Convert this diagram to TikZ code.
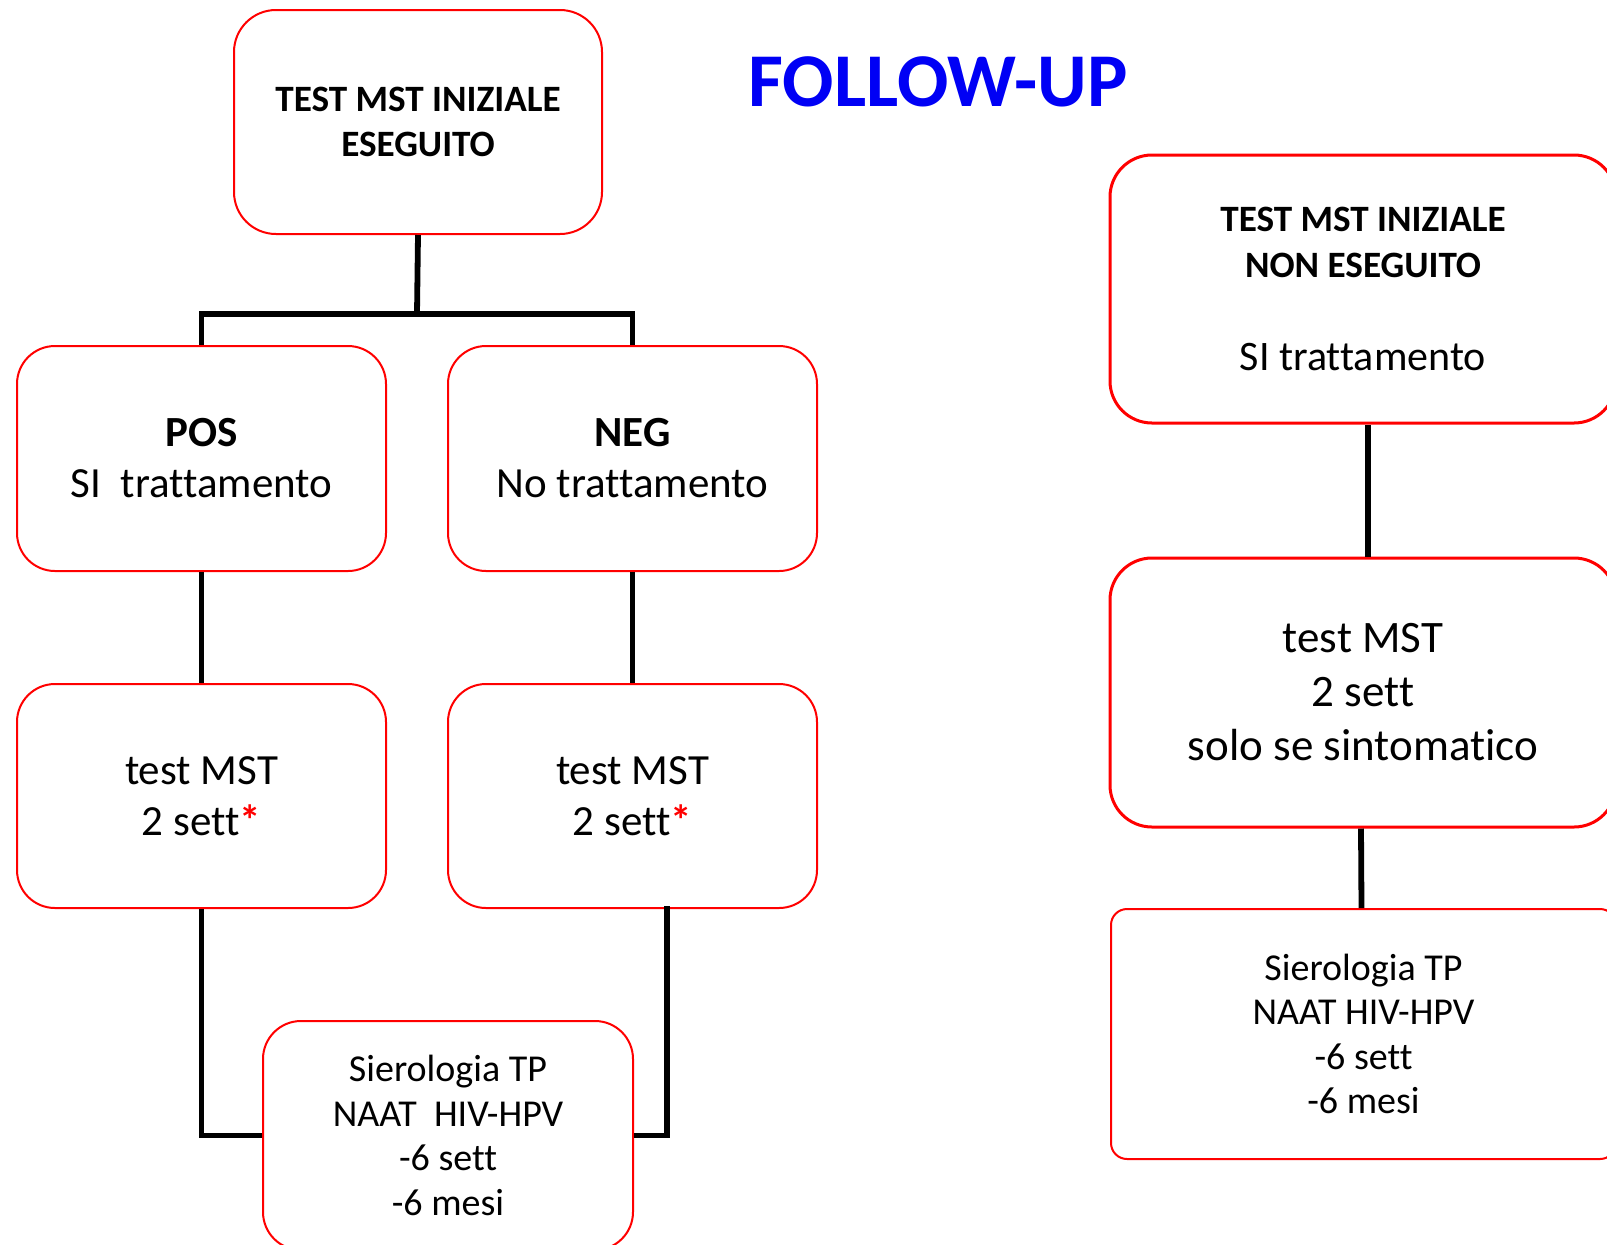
\documentclass[tikz,border=0pt]{standalone}
\usepackage{fontspec}
\setmainfont{Carlito}[Ligatures=NoCommon]
\definecolor{boxred}{RGB}{255,0,0}
\definecolor{titleblue}{RGB}{0,0,245}
\tikzset{
  box/.style={draw=boxred, line width=1pt, fill=white, align=center, inner sep=0pt, rounded corners=19pt},
  thickbox/.style={box, line width=1.5pt, rounded corners=21pt},
  thinbox/.style={box, line width=1pt, rounded corners=8pt},
  conn/.style={line width=2.9pt, black},
  fa/.style={font=\fontsize{18.6}{22.8}\selectfont},
  fb/.style={font=\fontsize{21.5}{25.5}\selectfont},
  fc/.style={font=\fontsize{19}{22.3}\selectfont},
  fd/.style={font=\fontsize{22.5}{27}\selectfont},
}
\newcommand{\rstar}{\textcolor{boxred}{\textbf{*}}}
\begin{document}
\begin{tikzpicture}[x=0.5pt,y=-0.5pt]
\useasboundingbox (0,0) rectangle (1607,1244);
\clip (0,0) rectangle (1607,1244);
\fill[white] (0,0) rectangle (1607,1244);

% left branch
\node[box, rounded corners=21pt, minimum width=184pt, minimum height=112pt, fa] (top) at (418,122)
  {\textbf{TEST MST INIZIALE}\\\textbf{ESEGUITO}};
\node[box, minimum width=184.5pt, minimum height=112.5pt, fb] (pos) at (201.5,458.5)
  {\textbf{POS}\\SI\ \ trattamento};
\node[box, minimum width=184.5pt, minimum height=112.5pt, fb] (neg) at (632.5,458.5)
  {\textbf{NEG}\\No trattamento};
\node[box, minimum width=184.5pt, minimum height=112pt, fb] (tpos) at (201.5,796)
  {test MST\\2 sett\rstar};
\node[box, minimum width=184.5pt, minimum height=112pt, fb] (tneg) at (632.5,796)
  {test MST\\2 sett\rstar};
\node[box, minimum width=185pt, minimum height=114.5pt, fc] (bot) at (448,1135.5)
  {Sierologia TP\\NAAT\ \ HIV-HPV\\-6 sett\\-6 mesi};

% title
\node[font=\fontsize{38}{44}\selectfont\bfseries, text=titleblue, inner sep=0pt] (title) at (938,82) {FOLLOW-UP};

% right branch
\node[thickbox, minimum width=253pt, minimum height=134pt, fa] (rtop) at (1363,289)
  {\textbf{TEST MST INIZIALE}\\\textbf{NON ESEGUITO}\\[24pt]{\fontsize{21}{23}\selectfont SI trattamento}};
\node[thickbox, minimum width=253pt, minimum height=134.5pt, fd] (rmid) at (1363,692.5)
  {test MST\\2 sett\\solo se sintomatico};
\node[thinbox, minimum width=252.5pt, minimum height=125pt, fc] (rbot) at (1363.5,1034)
  {Sierologia TP\\NAAT HIV-HPV\\-6 sett\\-6 mesi};

% connectors
\coordinate (j) at (417,314);
\draw[conn] (top.south) -- (j);
\draw[conn] (pos.north) |- (j) -| (neg.north);
\draw[conn] (pos.south) -- (tpos.north);
\draw[conn] (neg.south) -- (tneg.north);
\draw[conn] (tpos.south) |- (bot.west);
\draw[conn] ([xshift=17.25pt,yshift=1.5pt]tneg.south) |- (bot.east);
\draw[conn] ([xshift=2.5pt]rtop.south) -- ([xshift=2.5pt]rmid.north);
\draw[conn] ([xshift=-1pt]rmid.south) -- ([xshift=-1pt]rbot.north);
\end{tikzpicture}
\end{document}
